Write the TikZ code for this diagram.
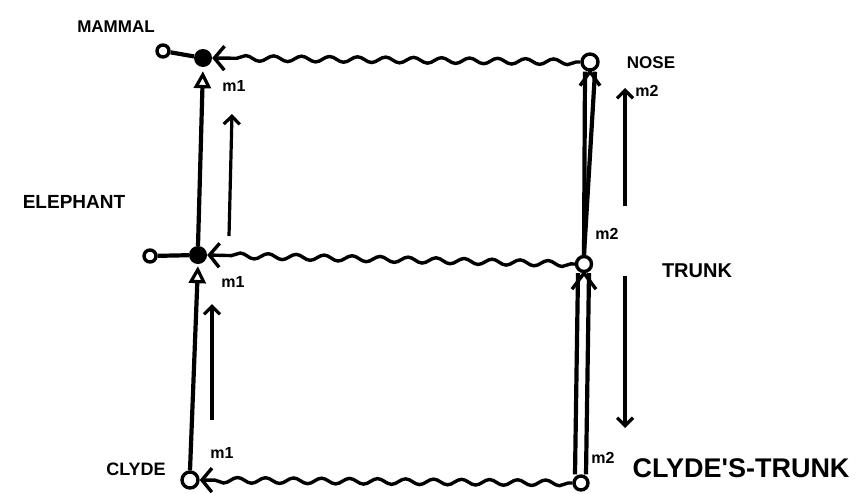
\documentclass[tikz,border=0pt]{standalone}
\usepackage{fontspec}
\setmainfont[Ligatures=NoCommon]{Liberation Sans}
\usetikzlibrary{arrows.meta,decorations.pathmorphing}
\begin{document}
\begin{tikzpicture}[x=1pt,y=-1pt,
  mainline/.style={line width=4.2pt},
  opencirc/.style={circle,draw,line width=3.4pt,fill=white,inner sep=0pt,minimum size=#1},
  opencirc/.default=13pt,
  dotnode/.style={circle,fill,inner sep=0pt,minimum size=18pt},
  isa/.style={mainline,-{Triangle[open,length=17pt,width=17pt,line width=3.2pt]}},
  thinarrow/.style={line width=3.2pt,-{Straight Barb[length=8pt,width=16pt,line width=3.2pt]}},
  wavy/.style={line width=3.4pt,decorate,
    decoration={snake,amplitude=2.8pt,segment length=28pt,pre length=4pt,post length=12pt},
    -{Straight Barb[length=10pt,width=24pt,line width=3.4pt]}},
  chev/.style={line width=3.4pt,line join=miter},
  biglbl/.style={font=\bfseries\fontsize{#1}{#1}\selectfont,inner sep=0pt},
  sm/.style={font=\bfseries\fontsize{16}{16}\selectfont,inner sep=0pt}
]
\fill[white] (0,0) rectangle (866,493);
\useasboundingbox (0,0) rectangle (866,493);

% nodes
\node[dotnode] (mdot) at (203,58) {};
\node[dotnode] (edot) at (198,255) {};
\node[opencirc=12pt] (mopen) at (163,51) {};
\node[opencirc=12pt] (eopen) at (150,256) {};
\node[opencirc=16pt] (clyde) at (190,480) {};
\node[opencirc=16pt] (nose) at (590,62) {};
\node[opencirc=15pt] (trunk) at (584,264) {};
\node[opencirc=14pt] (ctrunk) at (581,483) {};

% labels
\node[biglbl=17] at (116,27) {MAMMAL};
\node[biglbl=19] at (74,202) {ELEPHANT};
\node[biglbl=18] at (136,469) {CLYDE};
\node[biglbl=17] at (651,63) {NOSE};
\node[biglbl=20] at (697,271) {TRUNK};
\node[biglbl=27] at (741,468) {CLYDE\textquotesingle S-TRUNK};

\node[sm] at (234,86) {m1};
\node[sm] at (233,282) {m1};
\node[sm] at (222,453) {m1};
\node[sm] at (647,91) {m2};
\node[sm] at (607,234) {m2};
\node[sm] at (603,458) {m2};

% attribute stubs
\draw[mainline] (mopen) -- (mdot);
\draw[mainline] (eopen) -- (edot);

% is-a links
\draw[isa,shorten >=4pt] (edot.north) -- (mdot.south);
\draw[isa,shorten >=2pt] (clyde.north) -- (edot.south);

% wavy links
\draw[wavy] (nose.west) -- (mdot.east);
\draw[wavy] (trunk.west) -- (edot.east);
\draw[wavy] (ctrunk.west) -- (clyde.east);

% double links on the right
\draw[mainline] (trunk.north) -- ([xshift=-5pt]nose.south);
\draw[mainline] (trunk.north) -- ([xshift=5pt]nose.south);
\draw[chev] ([shift={(-10pt,-14pt)}]nose.south) -- (nose.south) -- ([shift={(10pt,-14pt)}]nose.south);
\draw[mainline] ([xshift=-6pt]ctrunk.north) -- ([xshift=-6pt]trunk.south);
\draw[mainline] ([xshift=5pt]ctrunk.north) -- ([xshift=5pt]trunk.south);
\draw[chev] ([shift={(-12pt,-16pt)}]trunk.south) -- (trunk.south) -- ([shift={(12pt,-16pt)}]trunk.south);

% thin parallel arrows
\coordinate (a1s) at (229,236); \coordinate (a1e) at (232,114);
\coordinate (a2s) at (212,420); \coordinate (a2e) at (212,304);
\coordinate (a3s) at (625,206); \coordinate (a3e) at (625,88);
\coordinate (a4s) at (625,276); \coordinate (a4e) at (625,428);
\draw[thinarrow] (a1s) -- (a1e);
\draw[thinarrow] (a2s) -- (a2e);
\draw[thinarrow] (a3s) -- (a3e);
\draw[thinarrow] (a4s) -- (a4e);
\end{tikzpicture}
\end{document}
